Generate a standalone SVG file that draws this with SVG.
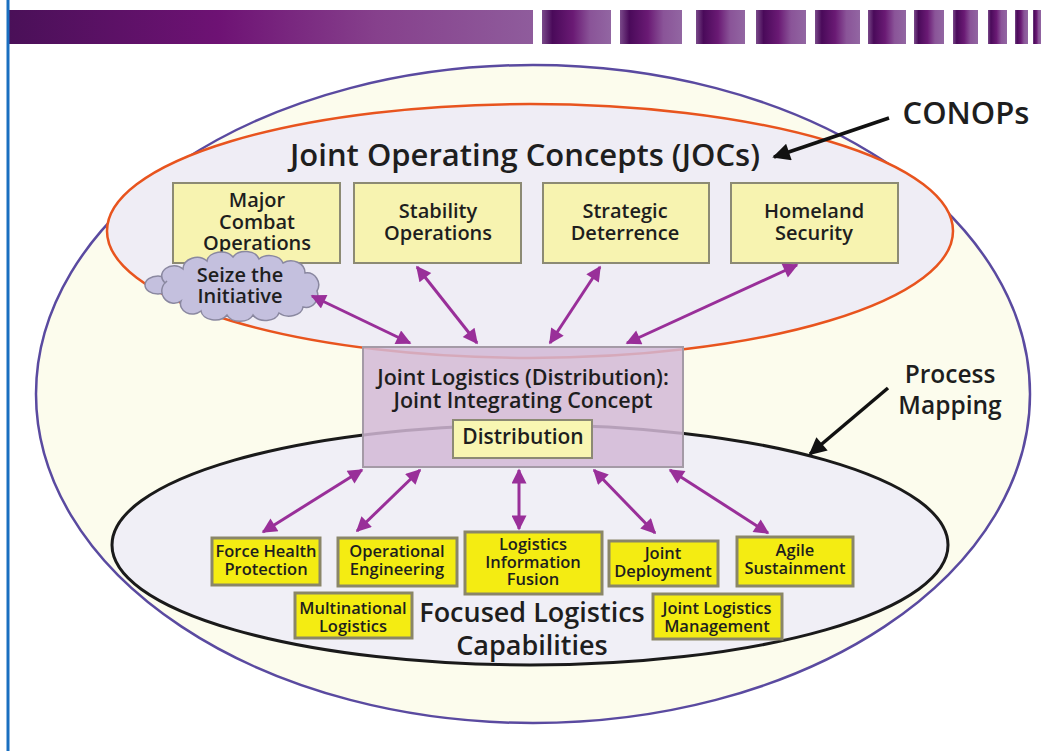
<svg xmlns="http://www.w3.org/2000/svg" width="1049" height="751" viewBox="0 0 1049 751">
<defs>
<linearGradient id="barMain" x1="0" x2="1" y1="0" y2="0">
<stop offset="0" stop-color="#4a1058"/>
<stop offset="0.4" stop-color="#6e1274"/>
<stop offset="0.7" stop-color="#86408c"/>
<stop offset="1" stop-color="#8f5c9c"/>
</linearGradient>
<linearGradient id="block" x1="0" x2="1" y1="0" y2="0">
<stop offset="0" stop-color="#7a4a8a"/>
<stop offset="0.15" stop-color="#4a0a5a"/>
<stop offset="0.45" stop-color="#6a1a74"/>
<stop offset="0.7" stop-color="#8a5498"/>
<stop offset="1" stop-color="#9266a2"/>
</linearGradient>
<marker id="pa" viewBox="0 0 10 10" refX="9" refY="5" markerWidth="6" markerHeight="5" orient="auto-start-reverse" markerUnits="strokeWidth">
<path d="M0,0 L10,5 L0,10 z" fill="#992f99"/>
</marker>
<marker id="ba" viewBox="0 0 10 10" refX="9" refY="5" markerWidth="6" markerHeight="5" orient="auto" markerUnits="strokeWidth">
<path d="M0,0 L10,5 L0,10 z" fill="#111"/>
</marker>
</defs>
<style>
text{font-family:"Open Sans","DejaVu Sans",sans-serif;fill:#1e1e1e;text-anchor:middle;font-weight:600}
.jb{fill:#f7f3b0;stroke:#8c8a74;stroke-width:2}
.fb{fill:#f4ec12;stroke:#8a8668;stroke-width:3}
.t20{font-size:20px}
.t15{font-size:16.5px}
.pl{stroke:#992f99;stroke-width:3;fill:none;marker-start:url(#pa);marker-end:url(#pa)}
.bl{stroke:#111;stroke-width:3.5;fill:none;marker-end:url(#ba)}
</style>
<rect width="1049" height="751" fill="#ffffff"/>
<!-- header bar -->
<g id="header">
<rect x="9" y="10" width="524" height="34" fill="url(#barMain)"/>
<rect x="542" y="10" width="69" height="34" fill="url(#block)"/>
<rect x="620" y="10" width="62" height="34" fill="url(#block)"/>
<rect x="696" y="10" width="49" height="34" fill="url(#block)"/>
<rect x="756" y="10" width="50" height="34" fill="url(#block)"/>
<rect x="815" y="10" width="45" height="34" fill="url(#block)"/>
<rect x="868" y="10" width="38" height="34" fill="url(#block)"/>
<rect x="914" y="10" width="30" height="34" fill="url(#block)"/>
<rect x="953" y="10" width="25" height="34" fill="url(#block)"/>
<rect x="988" y="10" width="19" height="34" fill="url(#block)"/>
<rect x="1015" y="10" width="13" height="34" fill="url(#block)"/>
<rect x="1033" y="10" width="8" height="34" fill="url(#block)"/>
</g>
<line x1="8" y1="0" x2="8" y2="751" stroke="#1a6fc0" stroke-width="3"/>
<!-- ellipses -->
<g id="outer">
<ellipse cx="533" cy="394" rx="497" ry="329" fill="#fcfced" stroke="#5a4aa0" stroke-width="2.5"/>
</g>
<g id="jocs">
<ellipse cx="530" cy="231" rx="423" ry="127" fill="#efedf5" stroke="#e8541e" stroke-width="2.5"/>
<text x="525" y="166" style="font-size:31px">Joint Operating Concepts (JOCs)</text>
</g>
<g id="focused">
<ellipse cx="530" cy="545" rx="418" ry="120" fill="#f0eff6" stroke="#1a1a1a" stroke-width="3"/>
<text x="532" y="622" style="font-size:27px">Focused Logistics</text>
<text x="532" y="655" style="font-size:27px">Capabilities</text>
</g>
<!-- JOC boxes -->
<g id="mco"><rect class="jb" x="173" y="183" width="167" height="80"/>
<text class="t20" x="257" y="207">Major</text><text class="t20" x="257" y="229">Combat</text><text class="t20" x="257" y="250">Operations</text></g>
<g id="stab"><rect class="jb" x="354" y="183" width="167" height="80"/>
<text class="t20" x="438" y="218">Stability</text><text class="t20" x="438" y="240">Operations</text></g>
<g id="strat"><rect class="jb" x="543" y="183" width="166" height="80"/>
<text class="t20" x="625" y="218">Strategic</text><text class="t20" x="625" y="240">Deterrence</text></g>
<g id="home"><rect class="jb" x="731" y="183" width="167" height="80"/>
<text class="t20" x="814" y="218">Homeland</text><text class="t20" x="814" y="240">Security</text></g>
<g id="cloud">
<ellipse cx="158" cy="285" rx="13" ry="9" fill="#c4c0de" stroke="#8a88a0" stroke-width="1.5"/>
<path d="M165,283 a12,10 0 0 1 18,-14 a14,12 0 0 1 24,-8 a14,10 0 0 1 26,-4 a14,10 0 0 1 26,2 a14,10 0 0 1 24,4 a14,12 0 0 1 22,10 a12,12 0 0 1 12,18 a12,12 0 0 1 -14,16 a14,10 0 0 1 -24,6 a14,10 0 0 1 -26,2 a14,10 0 0 1 -26,0 a14,10 0 0 1 -26,-4 a12,10 0 0 1 -20,-10 a10,10 0 0 1 -14,-20 z" fill="#c4c0de" stroke="#8a88a0" stroke-width="1.5"/>
<text class="t20" x="240" y="282">Seize the</text><text class="t20" x="240" y="303">Initiative</text>
</g>
<!-- JIC -->
<g id="jic">
<rect x="363" y="347" width="320" height="120" fill="#d2b8d6" fill-opacity="0.85" stroke="#a49aa6" stroke-width="2"/>
<text x="523" y="385" style="font-size:21.5px">Joint Logistics (Distribution):</text>
<text x="523" y="408" style="font-size:21.5px">Joint Integrating Concept</text>
</g>
<g id="distribution"><rect x="453" y="420" width="139" height="38" fill="#f8f6b2" stroke="#8c8a74" stroke-width="2"/>
<text x="523" y="444" style="font-size:21px">Distribution</text></g>
<!-- focused boxes -->
<g id="fhp"><rect class="fb" x="212" y="538" width="108" height="47"/><text class="t15" x="266" y="557">Force Health</text><text class="t15" x="266" y="575">Protection</text></g>
<g id="oe"><rect class="fb" x="338" y="538" width="119" height="48"/><text class="t15" x="397" y="557">Operational</text><text class="t15" x="397" y="575">Engineering</text></g>
<g id="ml"><rect class="fb" x="295" y="593" width="117" height="45"/><text class="t15" x="353" y="614">Multinational</text><text class="t15" x="353" y="632">Logistics</text></g>
<g id="lif"><rect class="fb" x="465" y="532" width="137" height="62"/><text class="t15" x="533" y="550">Logistics</text><text class="t15" x="533" y="568">Information</text><text class="t15" x="533" y="585">Fusion</text></g>
<g id="jd"><rect class="fb" x="609" y="541" width="109" height="45"/><text class="t15" x="663" y="559">Joint</text><text class="t15" x="663" y="577">Deployment</text></g>
<g id="as"><rect class="fb" x="737" y="537" width="116" height="49"/><text class="t15" x="795" y="556">Agile</text><text class="t15" x="795" y="574">Sustainment</text></g>
<g id="jlm"><rect class="fb" x="653" y="594" width="129" height="45"/><text class="t15" x="717" y="614">Joint Logistics</text><text class="t15" x="717" y="632">Management</text></g>
<!-- labels -->
<g id="conops"><text x="966" y="124" style="font-size:31px">CONOPs</text></g>
<g id="process"><text x="950" y="383" style="font-size:24.5px">Process</text><text x="950" y="414" style="font-size:24.5px">Mapping</text></g>
<!-- connectors -->
<g id="connectors">
<line class="pl" x1="312" y1="296" x2="410" y2="343"/>
<line class="pl" x1="417" y1="267" x2="477" y2="343"/>
<line class="pl" x1="600" y1="267" x2="550" y2="343"/>
<line class="pl" x1="797" y1="265" x2="627" y2="343"/>
<line class="pl" x1="362" y1="470" x2="263" y2="532"/>
<line class="pl" x1="420" y1="470" x2="357" y2="531"/>
<line class="pl" x1="519" y1="470" x2="519" y2="529"/>
<line class="pl" x1="594" y1="470" x2="655" y2="533"/>
<line class="pl" x1="670" y1="470" x2="768" y2="533"/>
<line class="bl" x1="889" y1="118" x2="774" y2="157"/>
<line class="bl" x1="888" y1="388" x2="810" y2="454"/>
</g>
</svg>
